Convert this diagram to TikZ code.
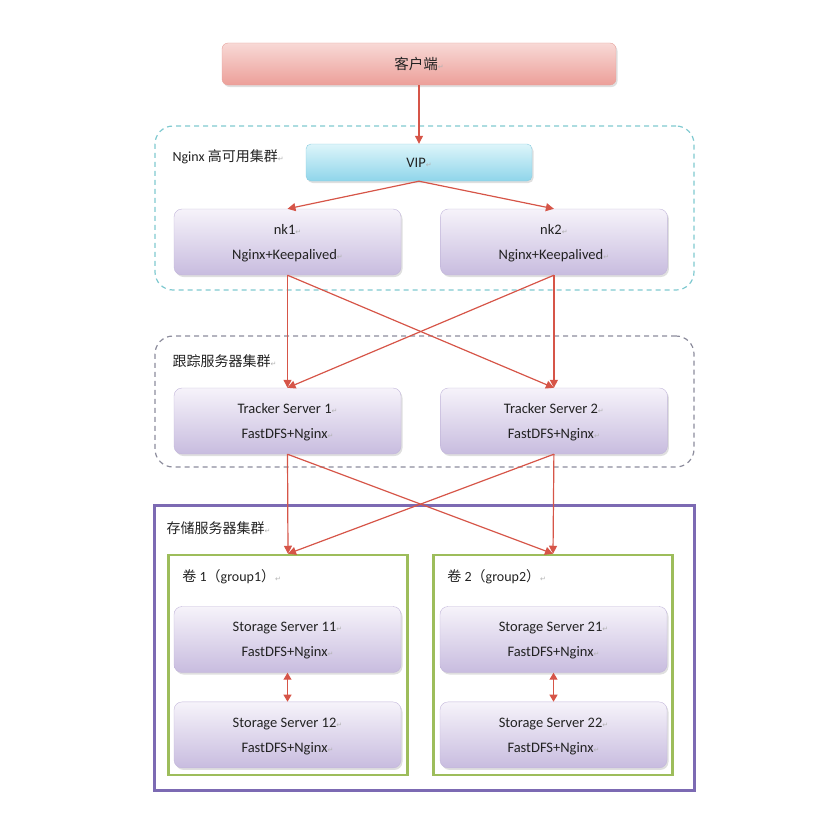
\documentclass[tikz,border=0pt]{standalone}
\usepackage{fontspec}
\setmainfont{Carlito}
\newfontfamily\cjk{Noto Sans CJK SC}
\newfontfamily\symfont{DejaVu Sans}
\usepackage{tikz}
\usetikzlibrary{positioning,arrows.meta,shadows}

\definecolor{linkred}{HTML}{D65548}
\definecolor{clienttop}{HTML}{F8D9D6}
\definecolor{clientbot}{HTML}{EC9F99}
\definecolor{clientedge}{HTML}{E6A29C}
\definecolor{viptop}{HTML}{DDF5FA}
\definecolor{vipbot}{HTML}{8FD5EA}
\definecolor{vipedge}{HTML}{8CCDE0}
\definecolor{servtop}{HTML}{F6F3FA}
\definecolor{servbot}{HTML}{C8BCDF}
\definecolor{servedge}{HTML}{C2B6DA}
\definecolor{nginxdash}{HTML}{7FC9D0}
\definecolor{trackdash}{HTML}{8C8C9C}
\definecolor{storeline}{HTML}{7C6AB3}
\definecolor{groupline}{HTML}{9DBD5B}
\definecolor{textdark}{HTML}{222222}

\newcommand{\parmark}{{\symfont\color{gray!60}\fontsize{7}{7}\selectfont ↵}}

\begin{document}
\begin{tikzpicture}[
			x=1pt, y=-1pt,
			node distance=29pt,
			every node/.style={text=textdark},
			server/.style={draw=servedge, rounded corners=8pt, minimum width=227pt, minimum height=66pt, align=center, top color=servtop, bottom color=servbot, font=\fontsize{14.5}{25}\selectfont, text depth=-2pt, drop shadow={shadow xshift=1.5pt, shadow yshift=-2pt, opacity=0.25}},
			client_box/.style={draw=clientedge, rounded corners=6pt, minimum width=394pt, minimum height=42pt, top color=clienttop, bottom color=clientbot, font=\fontsize{14.5}{14}\selectfont, drop shadow={shadow xshift=1.5pt, shadow yshift=-2pt, opacity=0.25}},
			vip_box/.style={draw=vipedge, rounded corners=5pt, minimum width=226pt, minimum height=37pt, top color=viptop, bottom color=vipbot, font=\fontsize{14.5}{14}\selectfont, drop shadow={shadow xshift=1.5pt, shadow yshift=-2pt, opacity=0.25}},
			nginx_zone/.style={draw=nginxdash, dashed, dash pattern=on 5pt off 4pt, line width=1.2pt, rounded corners=18pt, minimum width=539pt, minimum height=164pt},
			track_zone/.style={draw=trackdash, dashed, dash pattern=on 5pt off 4pt, line width=1.2pt, rounded corners=18pt, minimum width=539pt, minimum height=131pt},
			store_zone/.style={draw=storeline, line width=3pt, minimum width=540pt, minimum height=285pt},
			group_box/.style={draw=groupline, line width=2.5pt, minimum width=239pt, minimum height=220pt},
			zone_label/.style={anchor=west, inner sep=0pt, font=\fontsize{14}{14}\selectfont},
			link/.style={draw=linkred, line width=1.2pt, -{Triangle[length=8pt,width=8pt]}},
			dual_link/.style={draw=linkred, line width=1.2pt, {Triangle[length=7pt,width=8pt]}-{Triangle[length=7pt,width=8pt]}}
			]
			\useasboundingbox (0,0) rectangle (824,816);
			
			% Zones
			\node[nginx_zone] (nginx_zone) at (424.5,208) {};
			\node[track_zone] (track_zone) at (424.5,401.5) {};
			\node[store_zone] (store_zone) at (424,647.5) {};
			\node[group_box] (group1) at (288,665) {};
			\node[group_box] (group2) at (553,665) {};
			
			\node[zone_label] (nginx_label) at ([shift={(18pt,-31pt)}]nginx_zone.north west) {Nginx {\cjk 高可用集群}\parmark};
			\node[zone_label] (track_label) at ([shift={(18pt,-26pt)}]track_zone.north west) {{\cjk 跟踪服务器集群}\parmark};
			\node[zone_label] (store_label) at ([shift={(14pt,-25pt)}]store_zone.north west) {{\cjk 存储服务器集群}\parmark};
			\node[zone_label] (group1_label) at ([shift={(15pt,-23pt)}]group1.north west) {{\cjk 卷} 1{\cjk （}group1{\cjk ）}\parmark};
			\node[zone_label] (group2_label) at ([shift={(15pt,-23pt)}]group2.north west) {{\cjk 卷} 2{\cjk （}group2{\cjk ）}\parmark};
			
			% Client and VIP
			\node[client_box] (client) at (419,64) {{\cjk 客户端}\parmark};
			\node[vip_box] (vip) at (419,162.5) {VIP\parmark};
			
			% Nginx nodes
			\node[server] (nk1) at (287.5,242) {nk1\parmark\\Nginx+Keepalived\parmark};
			\node[server, right=39pt of nk1] (nk2) {nk2\parmark\\Nginx+Keepalived\parmark};
			
			% Tracker servers
			\node[server] (tracker1) at (287.5,421) {Tracker Server 1\parmark\\FastDFS+Nginx\parmark};
			\node[server, right=39pt of tracker1] (tracker2) {Tracker Server 2\parmark\\FastDFS+Nginx\parmark};
			
			% Storage servers
			\node[server] (storage11) at (287.5,639.5) {Storage Server 11\parmark\\FastDFS+Nginx\parmark};
			\node[server, below=of storage11] (storage12) {Storage Server 12\parmark\\FastDFS+Nginx\parmark};
			\node[server] (storage21) at (553.5,639.5) {Storage Server 21\parmark\\FastDFS+Nginx\parmark};
			\node[server, below=of storage21] (storage22) {Storage Server 22\parmark\\FastDFS+Nginx\parmark};
			
			% Connections
			\draw[link] (client) -- (vip);
			\draw[link] (vip.south) -- (nk1.north);
			\draw[link] (vip.south) -- (nk2.north);
			
			\draw[link] (nk1.south) -- (tracker1.north);
			\draw[link] (nk1.south) -- (tracker2.north);
			\draw[link] (nk2.south) -- (tracker1.north);
			\draw[link] (nk2.south) -- (tracker2.north);
			
			\draw[link] (tracker1.south) -- (group1.north);
			\draw[link] (tracker1.south) -- (group2.north);
			\draw[link] (tracker2.south) -- (group1.north);
			\draw[link] (tracker2.south) -- (group2.north);
			
			\draw[dual_link] (storage11) -- (storage12);
			\draw[dual_link] (storage21) -- (storage22);
			
		\end{tikzpicture}
\end{document}
